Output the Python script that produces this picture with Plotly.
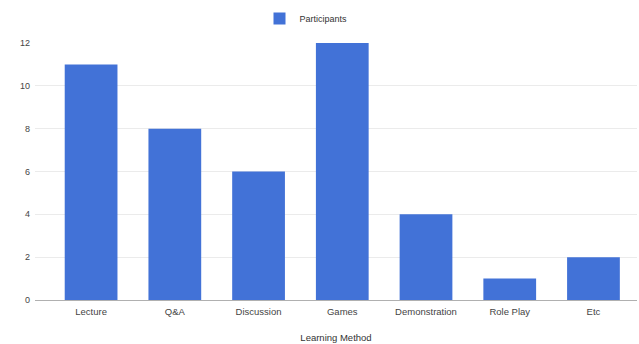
import plotly.graph_objects as go

categories = ["Lecture", "Q&A", "Discussion", "Games", "Demonstration", "Role Play", "Etc"]
participants = [11, 8, 6, 12, 4, 1, 2]
y_ticks = [0, 2, 4, 6, 8, 10, 12]

fig = go.Figure()
fig.add_trace(go.Bar(
    x=categories, y=participants, name="Participants",
    marker=dict(color="#4272d7", line=dict(width=0)),
))

W, H = 639, 344
fig.update_layout(
    width=W, height=H,
    margin=dict(l=35, r=2, t=43, b=44),
    paper_bgcolor="white", plot_bgcolor="white",
    font=dict(family="Liberation Sans, Arial, sans-serif", size=9.5, color="#444444"),
    bargap=0.37,
    showlegend=True,
    legend=dict(orientation="h", x=0.5 - 30 / 602, xanchor="center", y=1 + (43 - 18.5) / 257, yanchor="middle",
                font=dict(size=9, color="#333333"), itemwidth=30),
    xaxis=dict(
        range=[-0.67, 6.52], showgrid=False, showline=False, ticks="",
        tickfont=dict(size=9.5, color="#444444"), ticklabelstandoff=4,
        title=dict(text="Learning Method", font=dict(size=9.5, color="#333333"), standoff=18),
    ),
    yaxis=dict(
        range=[0, 12], tickvals=y_ticks, showgrid=True, gridcolor="#ebebeb", gridwidth=1,
        zeroline=True, zerolinecolor="#b0b0b0", zerolinewidth=1, showline=False, ticks="",
        tickfont=dict(size=9, color="#444444"), ticklabelstandoff=4,
    ),
)

fig.write_html("out.html")
